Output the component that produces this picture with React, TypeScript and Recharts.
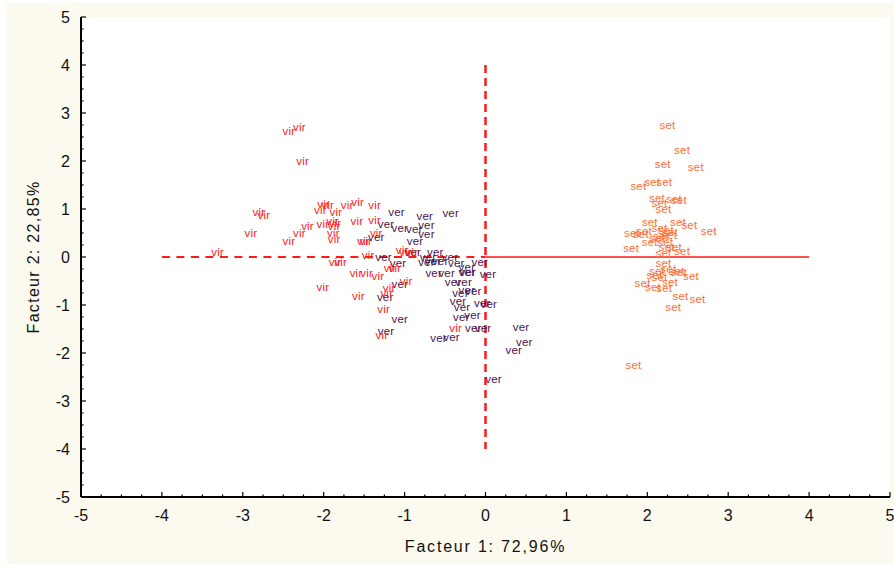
import { ScatterChart, Scatter, XAxis, YAxis, ReferenceLine, CartesianGrid } from 'recharts';

// Factor scores (Facteur 1, Facteur 2) per species, one label per observation
const SETOSA: [number, number][] = [
  [2.25, 2.75], [2.43, 2.23], [2.19, 1.94], [2.6, 1.88], [1.89, 1.48], [2.06, 1.56], [2.21, 1.56],
  [2.12, 1.22], [2.15, 1.12], [2.2, 1.01], [2.33, 1.2], [2.39, 1.18], [2.03, 0.73], [2.38, 0.73],
  [2.52, 0.67], [2.76, 0.54], [1.81, 0.49], [1.92, 0.48], [1.96, 0.55], [2.15, 0.61], [2.23, 0.57],
  [2.28, 0.53], [2.12, 0.4], [2.03, 0.32], [2.22, 0.32], [2.24, 0.21], [2.33, 0.21], [1.8, 0.18],
  [2.2, 0.08], [2.43, 0.13], [2.2, -0.13], [2.26, -0.26], [2.36, -0.29], [2.39, -0.32], [2.54, -0.39],
  [2.09, -0.38], [2.15, -0.41], [2.28, -0.53], [1.94, -0.54], [2.07, -0.62], [2.21, -0.65],
  [2.41, -0.81], [2.62, -0.88], [2.32, -1.04], [1.83, -2.25], [2.17, 0.44], [2.27, 0.46], [2.12, -0.29],
];

const VERSICOLOR: [number, number][] = [
  [-1.1, 0.93], [-0.75, 0.85], [-0.43, 0.92], [-1.23, 0.69], [-1.06, 0.6], [-0.88, 0.58], [-0.73, 0.67],
  [-0.73, 0.48], [-1.35, 0.42], [-0.87, 0.33], [-0.9, 0.11], [-0.62, 0.11], [-1.26, -0.01], [-1.08, -0.12],
  [-0.71, 0.0], [-0.44, 0.01], [-0.73, -0.1], [-0.65, -0.09], [-0.56, -0.08], [-0.36, -0.13], [-0.23, -0.2],
  [-0.22, -0.31], [-0.07, -0.11], [-0.64, -0.33], [-0.48, -0.33], [-0.23, -0.31], [0.03, -0.36],
  [-0.4, -0.53], [-0.27, -0.53], [-0.23, -0.69], [-0.15, -0.71], [-0.31, -0.76], [-0.34, -0.92],
  [-0.29, -1.05], [-0.04, -0.96], [0.04, -0.98], [-0.3, -1.25], [-0.16, -1.21], [-0.15, -1.48],
  [-0.03, -1.48], [-0.58, -1.69], [-0.42, -1.67], [0.44, -1.46], [0.48, -1.78], [0.35, -1.94],
  [0.1, -2.55], [-1.24, -0.84], [-1.06, -1.29], [-1.23, -1.55], [-1.06, -0.56],
];

const VIRGINICA: [number, number][] = [
  [-2.43, 2.63], [-2.3, 2.71], [-2.26, 2.0], [-3.31, 0.11], [-2.9, 0.51], [-2.8, 0.94], [-2.74, 0.88],
  [-2.43, 0.34], [-2.3, 0.51], [-2.2, 0.65], [-2.0, 1.11], [-1.95, 1.08], [-2.04, 0.97], [-1.85, 0.94],
  [-1.71, 1.08], [-1.58, 1.15], [-1.37, 1.08], [-2.01, 0.69], [-1.89, 0.76], [-1.86, 0.71], [-1.87, 0.64],
  [-1.88, 0.5], [-1.87, 0.38], [-1.59, 0.75], [-1.37, 0.78], [-1.51, 0.34], [-1.48, 0.33], [-1.35, 0.51],
  [-1.86, -0.1], [-1.79, -0.1], [-1.45, 0.04], [-1.6, -0.33], [-1.47, -0.33], [-1.33, -0.39],
  [-1.18, -0.23], [-1.12, -0.22], [-2.01, -0.62], [-1.57, -0.81], [-1.19, -0.65], [-1.22, -0.74],
  [-0.98, -0.5], [-1.26, -1.08], [-1.28, -1.63], [-0.37, -1.47], [-1.03, 0.14], [-0.99, 0.11], [-0.91, 0.1],
];

const TICKS = Array.from({ length: 41 }, (_, i) => -5 + i * 0.25);

const FONT = '"Liberation Sans", Arial, sans-serif';
const AXIS_COLOR = '#000';
const LINE_RED = '#ff1a1a';
const TICK_GAP = 13;

const toPoints = (pairs: [number, number][]) => pairs.map(([x, y]) => ({ x, y }));

const pointLabel = (text: string, color: string) => (props: any) => (
  <text
    x={props.cx}
    y={props.cy}
    textAnchor="middle"
    dominantBaseline="central"
    fontFamily={FONT}
    fontSize={11.5}
    letterSpacing={0.2}
    fill={color}
  >
    {text}
  </text>
);

const tickLen = (v: number) => (Number.isInteger(v) ? 5 : 2.5);

const BottomTick = (props: any) => {
  const { x, y, payload } = props;
  const v = payload.value;
  const axisY = y - TICK_GAP;
  return (
    <g>
      <line x1={x} x2={x} y1={axisY} y2={axisY - tickLen(v)} stroke={AXIS_COLOR} strokeWidth={1.2} />
      {Number.isInteger(v) && (
        <text x={x} y={y} dy="0.71em" textAnchor="middle" fontFamily={FONT} fontSize={16} fill="#111">
          {v}
        </text>
      )}
    </g>
  );
};

const LeftTick = (props: any) => {
  const { x, y, payload } = props;
  const v = payload.value;
  const axisX = x + 11;
  return (
    <g>
      <line x1={axisX} x2={axisX + tickLen(v)} y1={y} y2={y} stroke={AXIS_COLOR} strokeWidth={1.2} />
      {Number.isInteger(v) && (
        <text x={x} y={y} dy="0.36em" textAnchor="end" fontFamily={FONT} fontSize={16} fill="#111">
          {v}
        </text>
      )}
    </g>
  );
};

const TopTick = (props: any) => {
  const { x, y, payload } = props;
  return <line x1={x} x2={x} y1={y} y2={y + tickLen(payload.value)} stroke={AXIS_COLOR} strokeWidth={1.2} />;
};

const RightTick = (props: any) => {
  const { x, y, payload } = props;
  return <line x1={x} x2={x - tickLen(payload.value)} y1={y} y2={y} stroke={AXIS_COLOR} strokeWidth={1.2} />;
};

export default function App() {
  return (
    <div style={{ position: 'absolute', left: 0, top: 0, width: 894, height: 569, background: '#fff' }}>
      <div style={{ position: 'absolute', left: 7, top: 3, width: 887, height: 561, background: '#fcf9ef' }}>
        <ScatterChart width={887} height={561} margin={{ top: 14, right: 4, bottom: 0, left: 0 }}>
          <CartesianGrid fill="#ffffff" fillOpacity={1} horizontal={false} vertical={false} />
          <XAxis
            xAxisId="bottom"
            type="number"
            dataKey="x"
            domain={[-5, 5]}
            ticks={TICKS}
            interval={0}
            height={67}
            tickSize={0}
            tickMargin={TICK_GAP}
            tick={<BottomTick />}
            axisLine={{ stroke: AXIS_COLOR, strokeWidth: 2 }}
            label={{
              value: 'Facteur 1: 72,96%',
              position: 'insideBottom',
              offset: 12,
              fontFamily: FONT,
              fontSize: 16,
              letterSpacing: 1.8,
              fill: '#111',
            }}
          />
          <XAxis
            xAxisId="top"
            orientation="top"
            type="number"
            domain={[-5, 5]}
            ticks={TICKS}
            interval={0}
            height={0}
            tickSize={0}
            tickMargin={0}
            tick={<TopTick />}
            axisLine={{ stroke: AXIS_COLOR, strokeWidth: 2 }}
          />
          <YAxis
            yAxisId="left"
            type="number"
            dataKey="y"
            domain={[-5, 5]}
            ticks={TICKS}
            interval={0}
            width={74}
            tickSize={0}
            tickMargin={11}
            tick={<LeftTick />}
            axisLine={{ stroke: AXIS_COLOR, strokeWidth: 2 }}
            label={{
              value: 'Facteur 2: 22,85%',
              angle: -90,
              position: 'insideLeft',
              offset: 26,
              style: { textAnchor: 'middle' },
              fontFamily: FONT,
              fontSize: 16,
              letterSpacing: 1.3,
              fill: '#111',
            }}
          />
          <YAxis
            yAxisId="right"
            orientation="right"
            type="number"
            domain={[-5, 5]}
            ticks={TICKS}
            interval={0}
            width={0}
            tickSize={0}
            tickMargin={0}
            tick={<RightTick />}
            axisLine={{ stroke: AXIS_COLOR, strokeWidth: 2 }}
          />
          <ReferenceLine
            xAxisId="bottom"
            yAxisId="left"
            segment={[{ x: -4, y: 0 }, { x: 0, y: 0 }]}
            stroke={LINE_RED}
            strokeWidth={2}
            strokeDasharray="8 6.5"
          />
          <ReferenceLine
            xAxisId="bottom"
            yAxisId="left"
            segment={[{ x: 0, y: 0 }, { x: 4, y: 0 }]}
            stroke={LINE_RED}
            strokeWidth={1.5}
          />
          <ReferenceLine
            xAxisId="bottom"
            yAxisId="left"
            segment={[{ x: 0, y: 4 }, { x: 0, y: -4 }]}
            stroke={LINE_RED}
            strokeWidth={2.5}
            strokeDasharray="8 5"
          />
          <Scatter
            xAxisId="bottom"
            yAxisId="left"
            data={toPoints(SETOSA)}
            shape={pointLabel('set', '#ff6e35')}
            isAnimationActive={false}
          />
          <Scatter
            xAxisId="bottom"
            yAxisId="left"
            data={toPoints(VERSICOLOR)}
            shape={pointLabel('ver', '#4a1450')}
            isAnimationActive={false}
          />
          <Scatter
            xAxisId="bottom"
            yAxisId="left"
            data={toPoints(VIRGINICA)}
            shape={pointLabel('vir', '#ff1a1a')}
            isAnimationActive={false}
          />
        </ScatterChart>
      </div>
    </div>
  );
}
